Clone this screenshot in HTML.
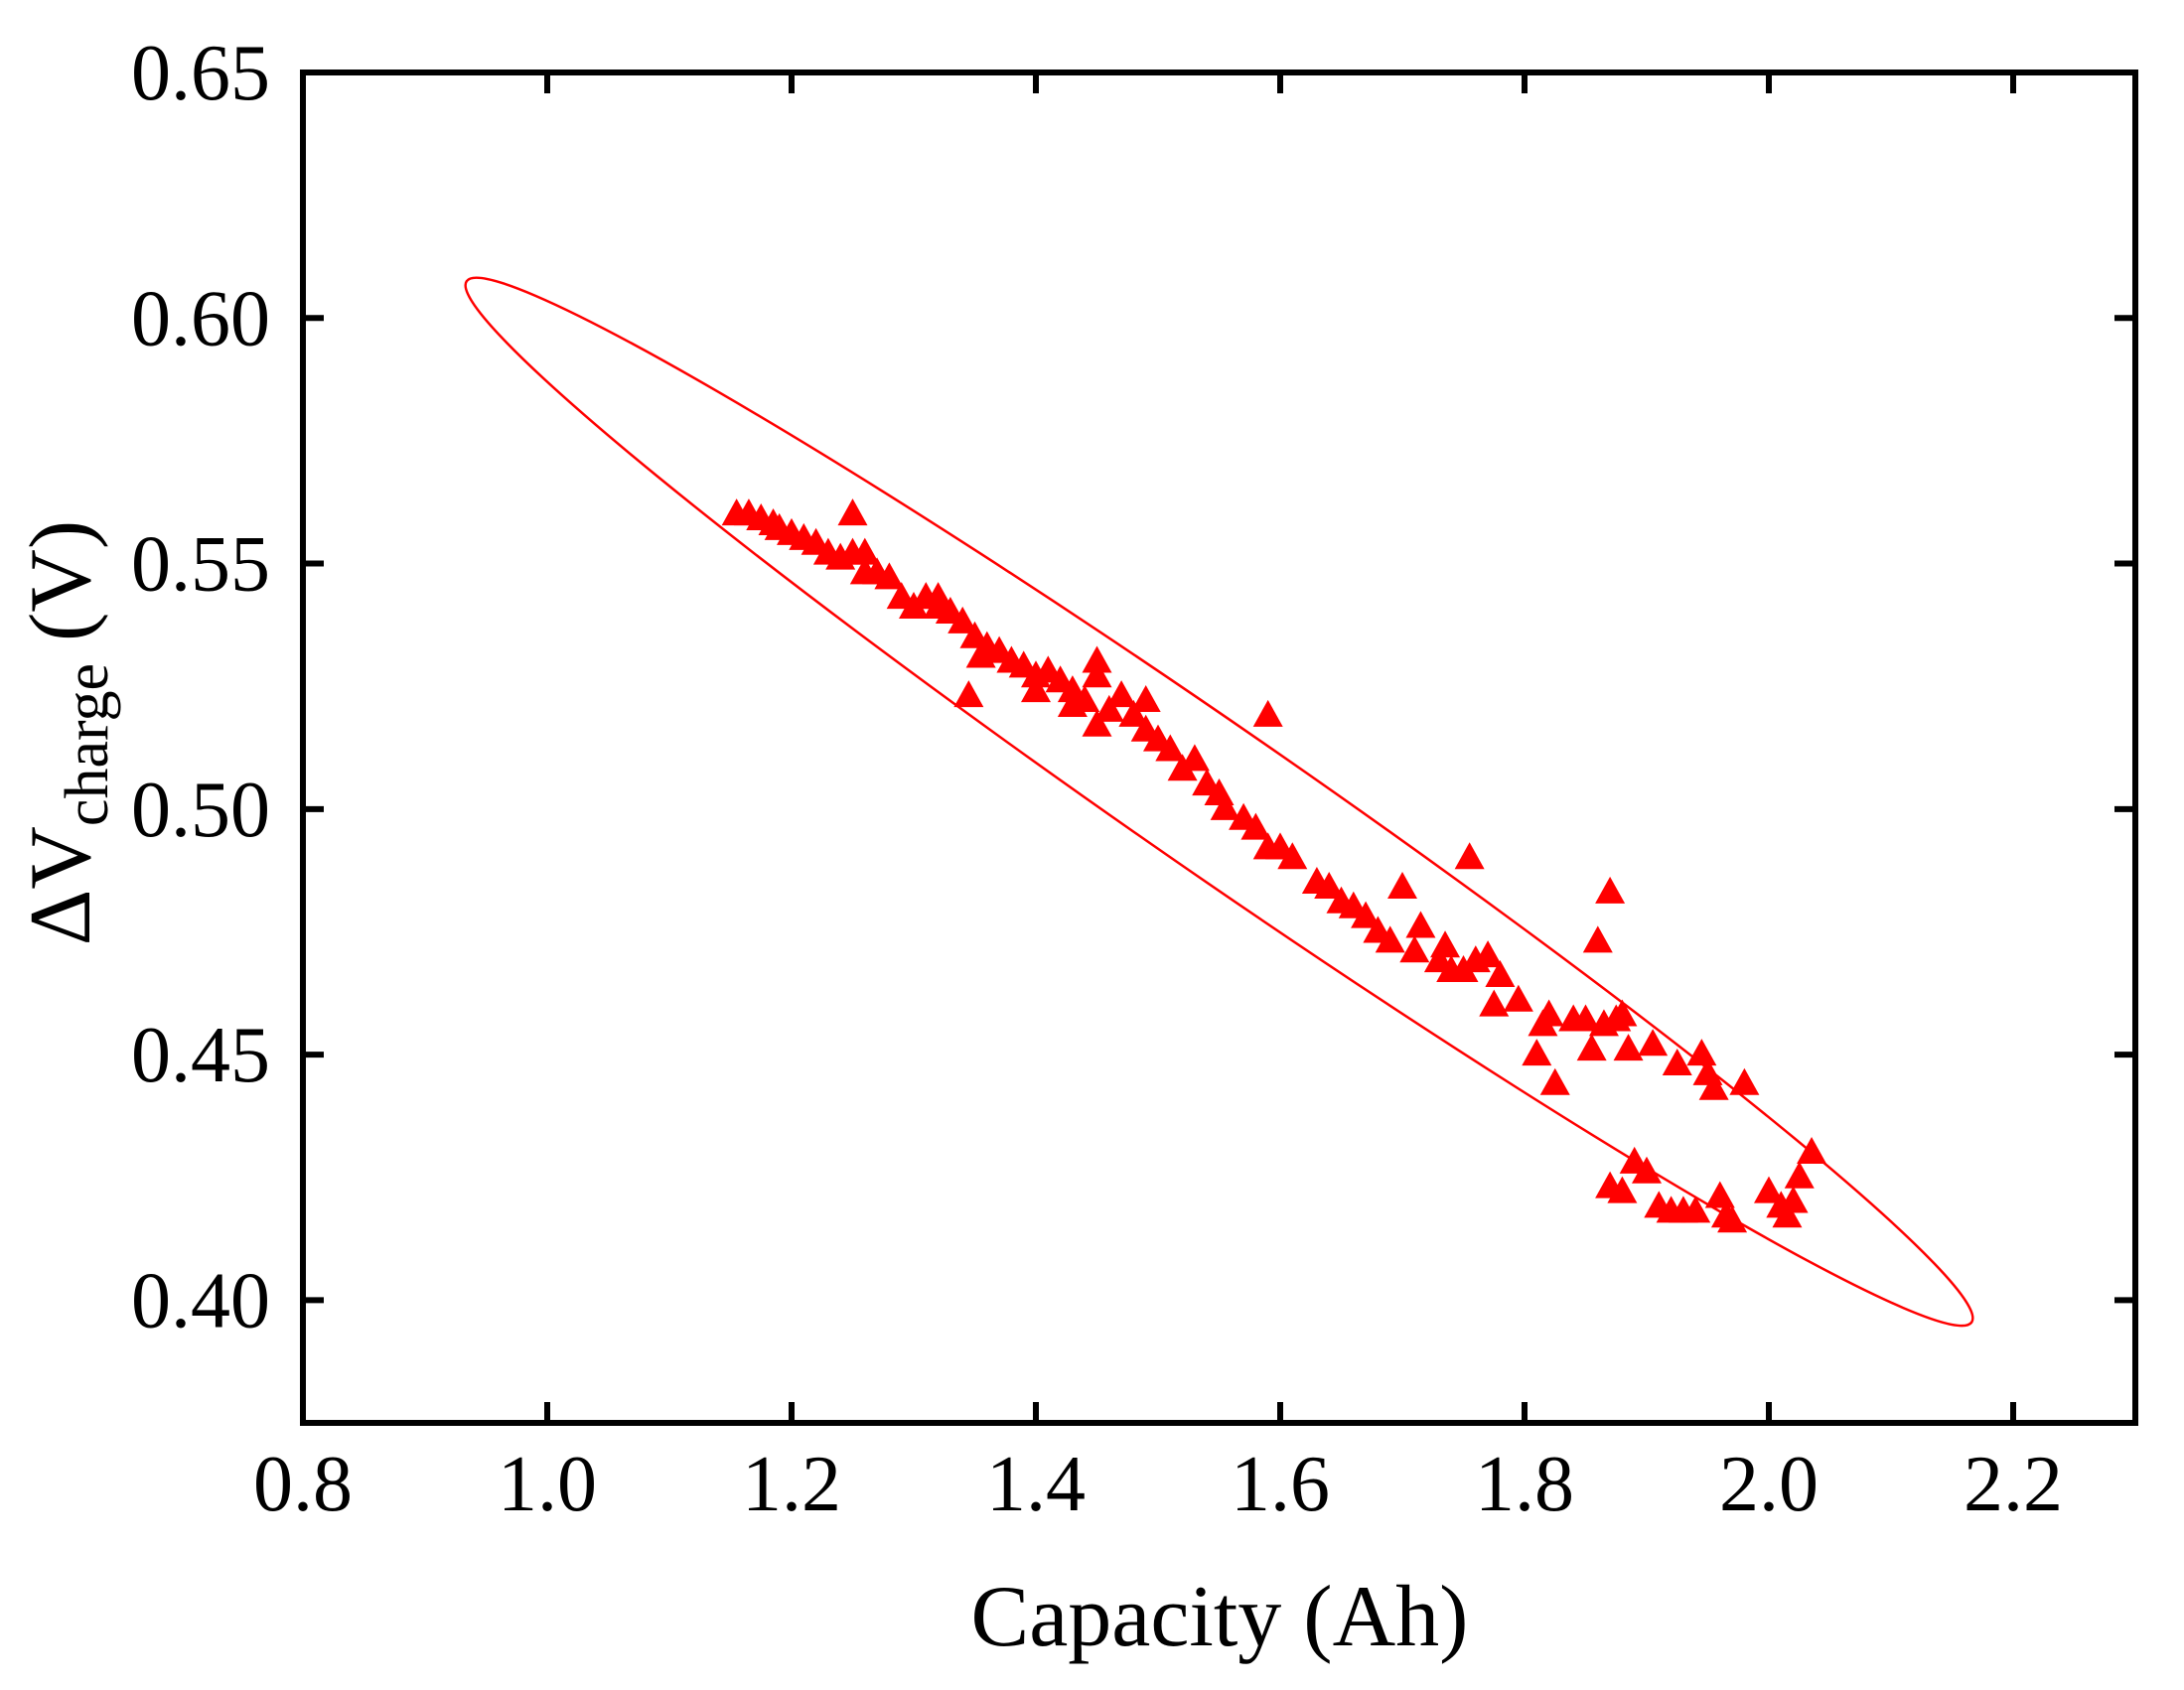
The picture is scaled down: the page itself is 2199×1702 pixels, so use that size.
<!DOCTYPE html>
<html><head><meta charset="utf-8"><style>
html,body{margin:0;padding:0;background:#fff;}
svg{display:block;}
text{font-family:"Liberation Serif",serif;fill:#000;}
</style></head><body>
<svg id="chart" width="2199" height="1702" viewBox="0 0 2199 1702" xmlns="http://www.w3.org/2000/svg">
<rect width="2199" height="1702" fill="#fff"/>
<g id="ticks"></g>
<g id="ellipse-g"></g>
<g id="points"></g>
<rect x="305" y="73" width="1845" height="1360" fill="none" stroke="#000" stroke-width="6"/>
<g id="xlabels"></g>
<g id="ylabels"></g>
<text x="1228" y="1657" font-size="88" text-anchor="middle">Capacity (Ah)</text>
<text transform="translate(90,738) rotate(-90)" font-size="88" text-anchor="middle">ΔV<tspan font-size="62" dy="18">charge</tspan><tspan dy="-18"> (V)</tspan></text>
</svg>
<script>
const xTicks = [0.8, 1.0, 1.2, 1.4, 1.6, 1.8, 2.0, 2.2];
const xTickLabels = ["0.8", "1.0", "1.2", "1.4", "1.6", "1.8", "2.0", "2.2"];
const yTicks = [0.40, 0.45, 0.50, 0.55, 0.60, 0.65];
const yTickLabels = ["0.40", "0.45", "0.50", "0.55", "0.60", "0.65"];
const capacity = [1.155,1.165,1.175,1.185,1.19,1.20,1.21,1.22,1.23,1.24,1.25,1.25,1.26,1.26,1.27,1.28,1.29,1.30,1.31,1.32,1.32,1.33,1.34,1.345,1.35,1.355,1.36,1.37,1.38,1.39,1.40,1.40,1.41,1.42,1.43,1.43,1.44,1.45,1.45,1.45,1.46,1.47,1.48,1.49,1.49,1.50,1.51,1.52,1.53,1.54,1.55,1.555,1.57,1.58,1.59,1.59,1.60,1.61,1.63,1.64,1.65,1.66,1.67,1.68,1.69,1.70,1.71,1.715,1.73,1.735,1.74,1.75,1.755,1.76,1.77,1.775,1.78,1.795,1.81,1.815,1.82,1.825,1.84,1.85,1.855,1.86,1.865,1.87,1.87,1.875,1.88,1.88,1.885,1.89,1.90,1.905,1.91,1.92,1.925,1.93,1.94,1.945,1.95,1.955,1.96,1.965,1.97,1.98,2.00,2.01,2.015,2.02,2.025,2.035];
const dVcharge = [0.560,0.560,0.559,0.558,0.557,0.556,0.555,0.554,0.552,0.551,0.552,0.560,0.552,0.548,0.548,0.547,0.543,0.541,0.543,0.543,0.541,0.540,0.538,0.523,0.535,0.531,0.533,0.532,0.530,0.529,0.527,0.524,0.528,0.526,0.524,0.521,0.522,0.530,0.527,0.517,0.520,0.523,0.519,0.522,0.516,0.514,0.512,0.508,0.510,0.505,0.503,0.500,0.498,0.496,0.519,0.492,0.492,0.490,0.485,0.484,0.481,0.480,0.478,0.475,0.473,0.484,0.471,0.476,0.469,0.472,0.467,0.467,0.490,0.469,0.470,0.460,0.466,0.461,0.450,0.456,0.458,0.444,0.457,0.457,0.451,0.473,0.456,0.483,0.423,0.457,0.458,0.422,0.451,0.428,0.426,0.452,0.419,0.418,0.448,0.418,0.418,0.450,0.446,0.443,0.421,0.417,0.416,0.444,0.422,0.419,0.417,0.420,0.425,0.430];
const ellipseCenter = [1.55, 0.5015];
const ellipseEnd = [2.166, 0.3955];

const NS = "http://www.w3.org/2000/svg";
const X0 = 305, X1 = 2150, Y0 = 73, Y1 = 1433;
const xMin = 0.8, xMax = 2.3, yMin = 0.375, yMax = 0.65;
function sx(v){ return X0 + (v - xMin) / (xMax - xMin) * (X1 - X0); }
function sy(v){ return Y1 - (v - yMin) / (yMax - yMin) * (Y1 - Y0); }
function mk(tag, attrs, parent){ const e = document.createElementNS(NS, tag); for (const k in attrs) e.setAttribute(k, attrs[k]); parent.appendChild(e); return e; }

const tg = document.getElementById("ticks");
const xl = document.getElementById("xlabels");
const yl = document.getElementById("ylabels");
xTicks.forEach((t, i) => {
  const x = sx(t);
  const a = mk("line", {x1:x, x2:x, y1:Y1, y2:Y1-21, stroke:"#000", "stroke-width":6}, tg);
  
  
  const b = mk("line", {x1:x, x2:x, y1:Y0, y2:Y0+21, stroke:"#000", "stroke-width":6}, tg);
  
  
  const l = mk("text", {x:x, y:1521, "font-size":80, "text-anchor":"middle"}, xl);
  l.textContent = xTickLabels[i];
  
  
});
yTicks.forEach((t, i) => {
  const y = sy(t);
  const a = mk("line", {x1:X0, x2:X0+21, y1:y, y2:y, stroke:"#000", "stroke-width":6}, tg);
  
  
  const b = mk("line", {x1:X1, x2:X1-21, y1:y, y2:y, stroke:"#000", "stroke-width":6}, tg);
  
  
  const l = mk("text", {x:272, y:y+27, "font-size":80, "text-anchor":"end"}, yl);
  l.textContent = yTickLabels[i];
  
  
});

const cx = sx(ellipseCenter[0]), cy = sy(ellipseCenter[1]);
const ex = sx(ellipseEnd[0]), ey = sy(ellipseEnd[1]);
const rx = Math.hypot(ex - cx, ey - cy);
const ang = Math.atan2(ey - cy, ex - cx) * 180 / Math.PI;
const el = mk("ellipse", {cx:cx, cy:cy, rx:rx, ry:74, transform:`rotate(${ang} ${cx} ${cy})`, fill:"none", stroke:"#f00", "stroke-width":2.5}, document.getElementById("ellipse-g"));



const pg = document.getElementById("points");
capacity.forEach((c, i) => {
  const x = sx(c), y = sy(dVcharge[i]);
  const p = mk("polygon", {points:`${x},${y-16} ${x-15},${y+11} ${x+15},${y+11}`, fill:"#f00"}, pg);
  
  
});
</script>
</body></html>
